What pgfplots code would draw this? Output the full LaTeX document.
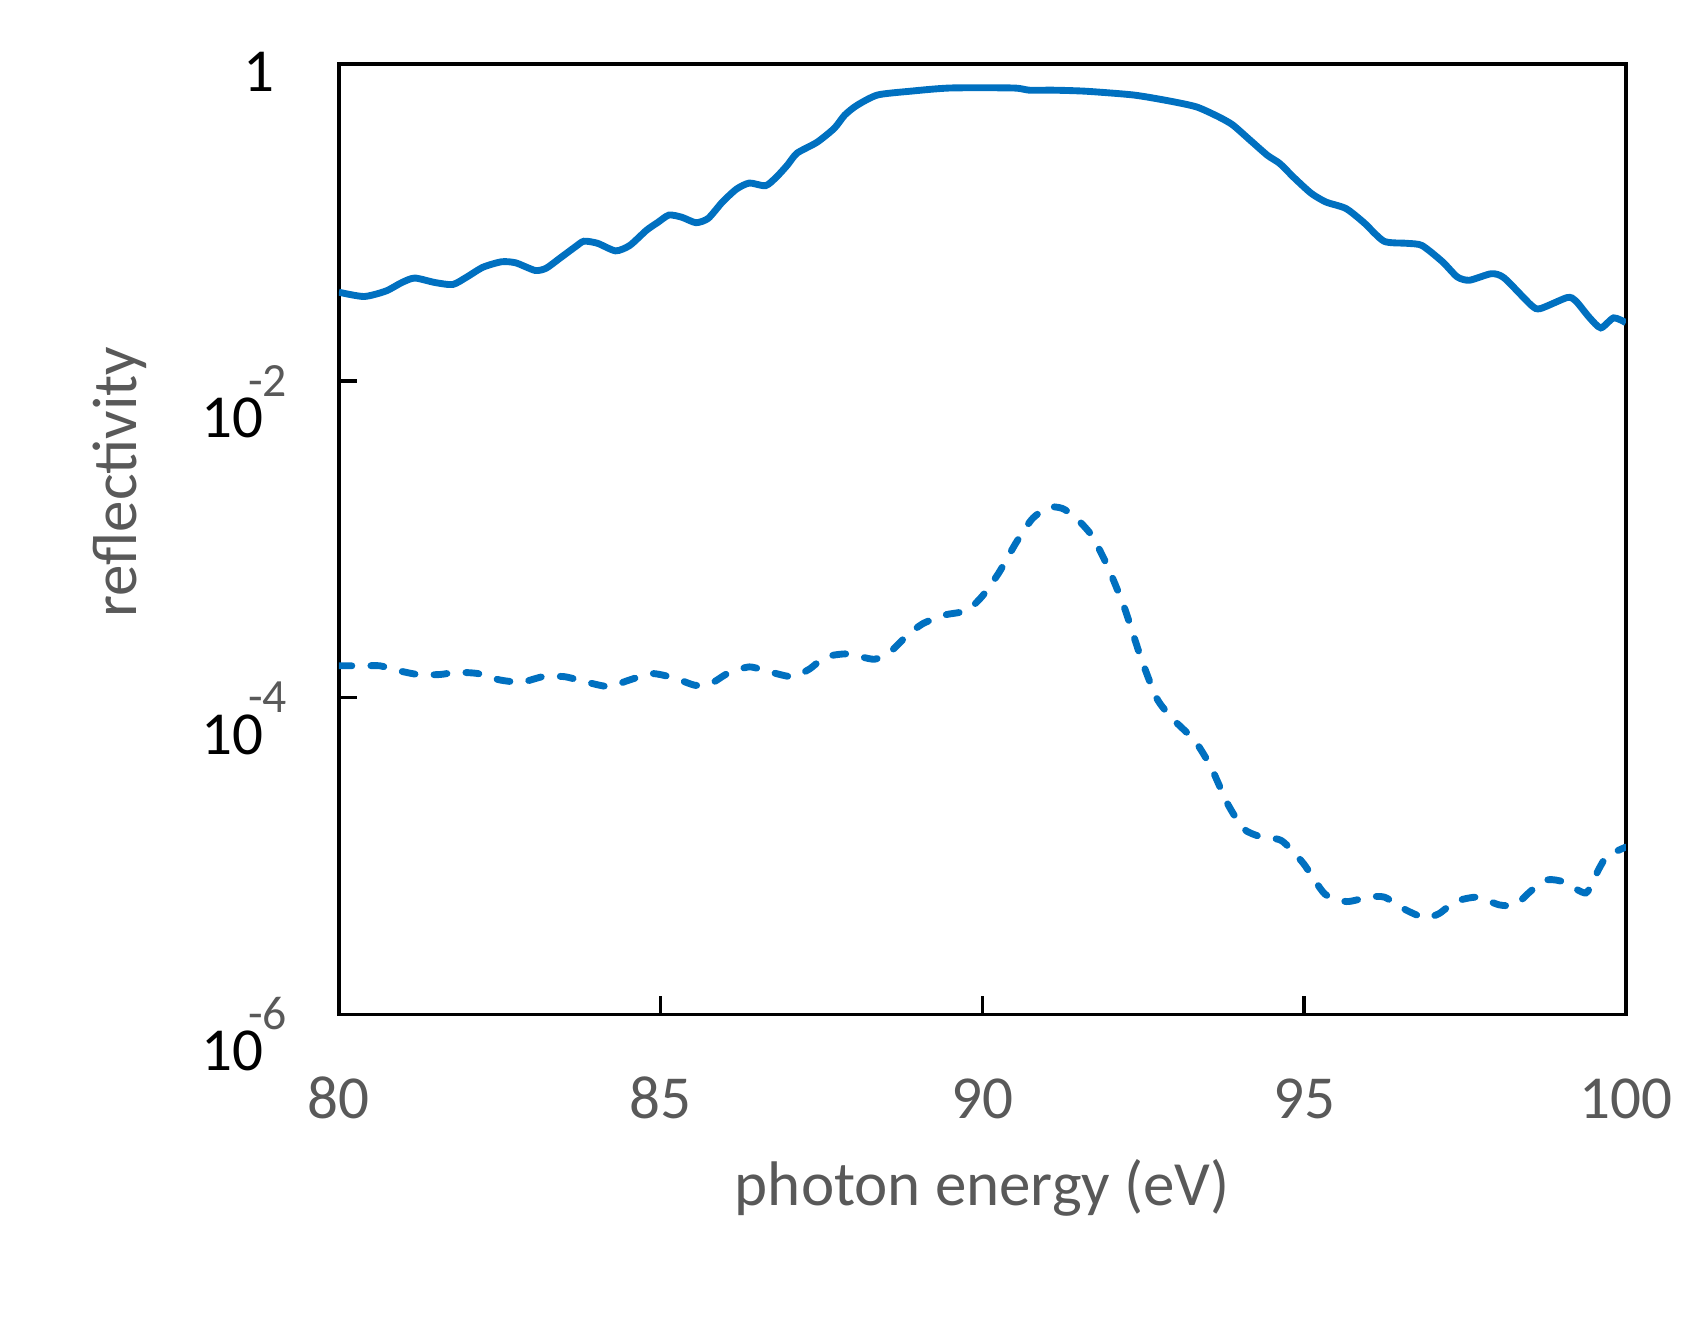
\documentclass[border=0pt]{standalone}
\usepackage{fontspec}
\setmainfont{Carlito}
\usepackage{pgfplots}
\pgfplotsset{compat=1.18}

\definecolor{exblue}{HTML}{0070C0}
\definecolor{txtgray}{HTML}{595959}

\newcommand{\tenexp}[1]{{\color{black}10}\kern-0.14cm\raisebox{0.38cm}{\fontsize{12.5}{12.5}\selectfont\color{txtgray}-#1}}

\begin{document}
\begin{tikzpicture}
\path[use as bounding box] (-3.12cm,-2.89cm) rectangle (12.56cm,9.34cm);
\begin{axis}[
    at={(0,0)}, anchor=south west,
    scale only axis,
    width=11.85cm, height=8.75cm,
    xmin=80, xmax=100,
    ymode=log,
    ymin=1e-6, ymax=1,
    xtick={80,85,90,95,100},
    ytick={1e-6,1e-4,1e-2,1},
    yticklabels={\tenexp{6},\tenexp{4},\tenexp{2},\raisebox{0.27cm}{1}\kern0.12cm},
    yminorticks=false,
    tick pos=left,
    tick align=inside,
    major tick length=0.17cm,
    tick style={black, line width=0.9pt},
    axis line style={black, line width=0.9pt},
    /pgf/number format/assume math mode=true,
    xticklabel style={font=\fontsize{16}{19}\selectfont, text=txtgray, anchor=base, inner sep=0pt, yshift=-0.96cm},
    yticklabel style={font=\fontsize{16}{19}\selectfont, anchor=base east, inner sep=0pt, xshift=-0.47cm, yshift=-0.52cm},
    xlabel={photon energy (eV)},
    ylabel={reflectivity},
    label style={font=\fontsize{16.5}{19}\selectfont, text=txtgray},
    xlabel style={at={(rel axis cs:0.5,0)}, anchor=base, inner sep=0pt, yshift=-1.76cm},
    ylabel style={at={(rel axis cs:-0.1705,0.56)}, anchor=center},
]
\addplot[exblue, line width=1.8pt, smooth, tension=0.4] coordinates {
(80.00,0.0363) (80.39,0.0341) (80.73,0.0369) (80.98,0.0418) (81.18,0.0446)
(81.49,0.0418) (81.77,0.0406) (81.99,0.0453) (82.24,0.0522) (82.53,0.0565)
(82.75,0.0556) (83.05,0.0498) (83.22,0.0514) (83.43,0.0593) (83.68,0.0705)
(83.81,0.0762) (84.02,0.0739) (84.30,0.0662) (84.52,0.0716) (84.78,0.0893)
(84.95,0.0997) (85.13,0.1114) (85.33,0.1079) (85.55,0.0997) (85.74,0.1062)
(85.96,0.1346) (86.18,0.1626) (86.38,0.1775) (86.63,0.1706) (86.80,0.1936)
(86.97,0.2303) (87.12,0.2740) (87.43,0.3209) (87.70,0.3937) (87.86,0.4761)
(88.05,0.5488) (88.37,0.6380) (88.88,0.6742) (89.50,0.7066) (90.48,0.7066)
(90.73,0.6844) (91.11,0.6844) (91.61,0.674) (92.35,0.638) (92.91,0.5845)
(93.33,0.5363) (93.67,0.4648) (93.89,0.4130) (94.16,0.3311) (94.43,0.2654)
(94.62,0.2359) (94.85,0.1906) (95.11,0.1528) (95.34,0.1346) (95.65,0.1225)
(95.93,0.0997) (96.24,0.0762) (96.59,0.0739) (96.83,0.0716) (97.15,0.0565)
(97.38,0.0453) (97.57,0.0432) (97.91,0.0475) (98.11,0.0446) (98.53,0.0300)
(98.67,0.0286) (99.09,0.0336) (99.22,0.0320) (99.43,0.0252) (99.61,0.0216)
(99.81,0.0250) (100.00,0.0233)
};
\addplot[exblue, line width=1.8pt, line cap=round, dash pattern=on 3.4pt off 5pt, smooth, tension=0.4] coordinates {
(80.00,1.589e-4) (80.39,1.589e-4) (80.64,1.589e-4) (80.89,1.492e-4) (81.23,1.40e-4)
(81.57,1.40e-4) (81.82,1.445e-4) (82.16,1.42e-4) (82.50,1.294e-4) (82.84,1.253e-4)
(83.17,1.356e-4) (83.51,1.356e-4) (83.85,1.253e-4) (84.19,1.177e-4) (84.52,1.294e-4)
(84.86,1.42e-4) (85.20,1.336e-4) (85.54,1.196e-4) (85.79,1.234e-4) (86.04,1.42e-4)
(86.38,1.564e-4) (86.72,1.445e-4) (87.05,1.356e-4) (87.31,1.514e-4) (87.56,1.803e-4)
(87.90,1.889e-4) (88.32,1.747e-4) (88.57,1.951e-4) (88.83,2.47e-4) (89.08,2.94e-4)
(89.42,3.33e-4) (89.76,3.55e-4) (90.01,4.43e-4) (90.26,6.18e-4) (90.52,9.46e-4)
(90.77,1.339e-3) (91.02,1.593e-3) (91.24,1.567e-3) (91.44,1.381e-3) (91.70,1.056e-3)
(91.95,6.68e-4) (92.21,3.67e-4) (92.46,1.803e-4) (92.71,9.9e-5) (92.96,7.33e-5)
(93.30,5.35e-5) (93.55,3.66e-5) (93.81,2.14e-5) (94.06,1.486e-5) (94.31,1.33e-5)
(94.65,1.25e-5) (94.99,8.97e-6) (95.32,5.77e-6) (95.66,5.16e-6) (96.00,5.50e-6)
(96.25,5.50e-6) (96.59,4.55e-6) (96.88,4.07e-6) (97.10,4.34e-6) (97.35,5.16e-6)
(97.69,5.50e-6) (98.03,4.92e-6) (98.28,4.92e-6) (98.53,6.05e-6) (98.78,7.08e-6)
(99.04,6.86e-6) (99.38,5.86e-6) (99.58,8.29e-6) (99.71,1.00e-5) (100.00,1.14e-5)
};
\end{axis}
\end{tikzpicture}
\end{document}
